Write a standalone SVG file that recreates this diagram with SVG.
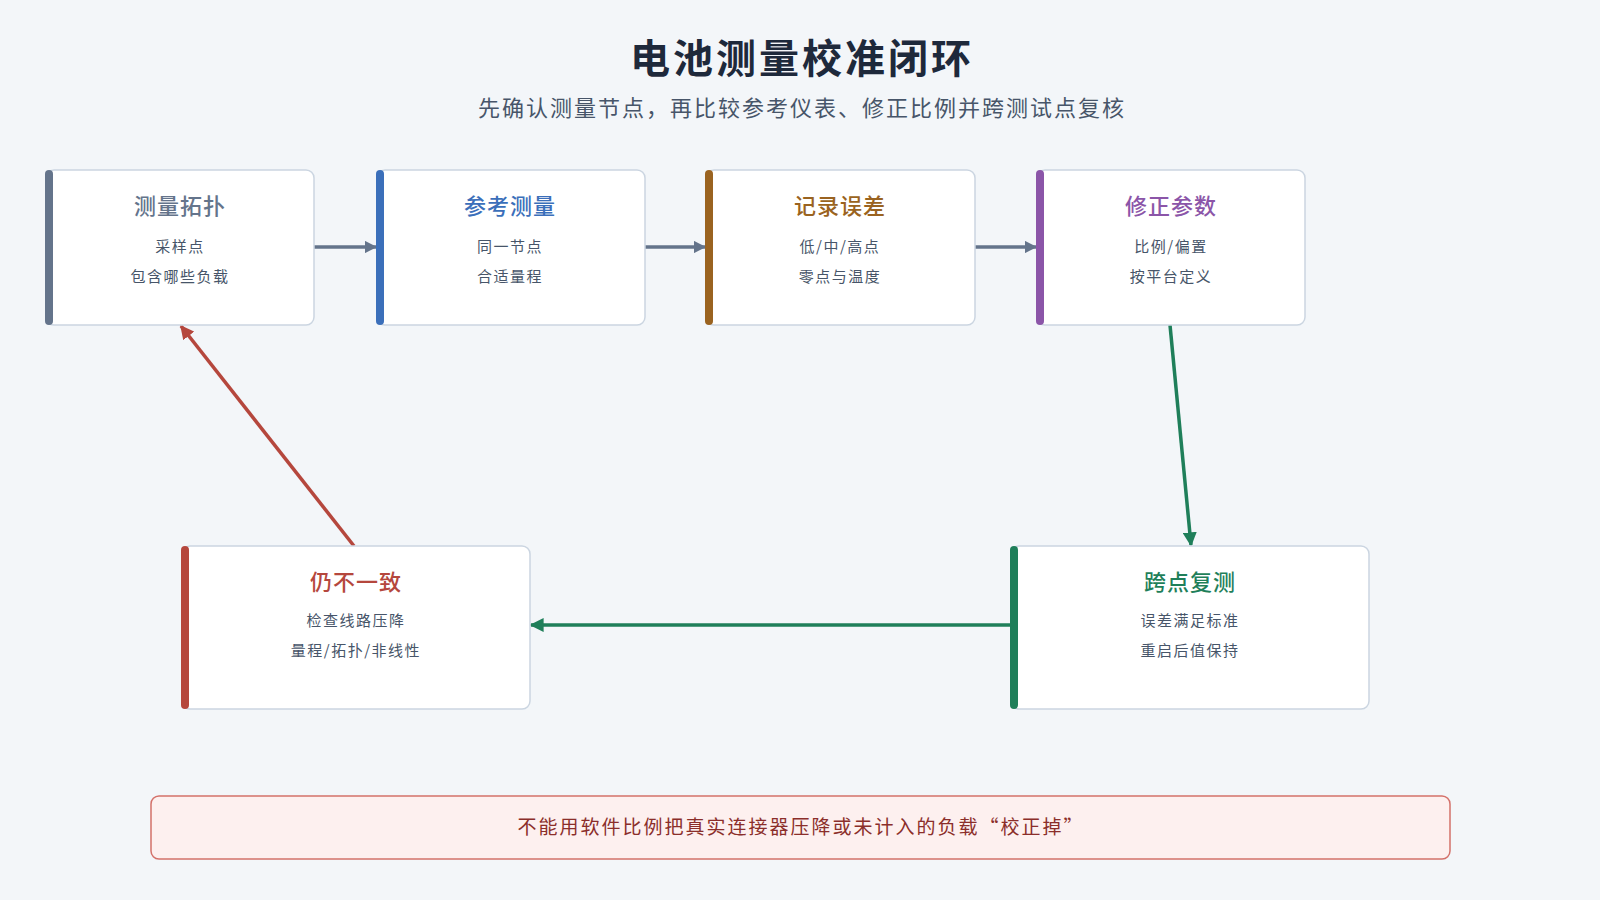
<svg xmlns="http://www.w3.org/2000/svg" width="1600" height="900" viewBox="0 0 1600 900">
<style>
text{font-family:"Noto Sans CJK SC","Noto Sans",sans-serif;text-anchor:middle}
.box{fill:#fff;stroke:#cbd5e1;stroke-width:1.5}
.t{font-size:22px;font-weight:500;letter-spacing:1px}
.s{font-size:15px;fill:#475569;letter-spacing:1.5px}
</style>
<defs>
<marker id="ag" viewBox="0 0 10 10" refX="9" refY="5" markerWidth="3.5" markerHeight="3.5" orient="auto"><path d="M0,0L10,5L0,10z" fill="#64748b"/></marker>
<marker id="agr" viewBox="0 0 10 10" refX="9" refY="5" markerWidth="4" markerHeight="4" orient="auto"><path d="M0,0L10,5L0,10z" fill="#1f7f5a"/></marker>
<marker id="ar" viewBox="0 0 10 10" refX="9" refY="5" markerWidth="4" markerHeight="4" orient="auto"><path d="M0,0L10,5L0,10z" fill="#b5473d"/></marker>
</defs>
<rect width="1600" height="900" fill="#f3f6f9"/>
<text x="802" y="73" font-size="40" font-weight="600" fill="#1e293b" letter-spacing="3">电池测量校准闭环</text>
<text x="802" y="116" font-size="22" fill="#475569" letter-spacing="2">先确认测量节点，再比较参考仪表、修正比例并跨测试点复核</text>
<g id="connectors" fill="none">
<path d="M314,247H376" stroke="#64748b" stroke-width="3.5" marker-end="url(#ag)"/>
<path d="M645,247H705" stroke="#64748b" stroke-width="3.5" marker-end="url(#ag)"/>
<path d="M975,247H1036" stroke="#64748b" stroke-width="3.5" marker-end="url(#ag)"/>
<path d="M1170,325L1191,545" stroke="#1f7f5a" stroke-width="3.5" marker-end="url(#agr)"/>
<path d="M1011,625H531" stroke="#1f7f5a" stroke-width="3.5" marker-end="url(#agr)"/>
<path d="M354,546L181,326" stroke="#b5473d" stroke-width="3.5" marker-end="url(#ar)"/>
</g>
<g id="n1"><rect class="box" x="46" y="170" width="268" height="155" rx="8"/><rect x="45" y="170" width="8" height="155" rx="4" fill="#64748b"/><text class="t" x="180" y="214" fill="#64748b">测量拓扑</text><text class="s" x="180" y="252">采样点</text><text class="s" x="180" y="282">包含哪些负载</text></g>
<g id="n2"><rect class="box" x="377" y="170" width="268" height="155" rx="8"/><rect x="376" y="170" width="8" height="155" rx="4" fill="#3b6fba"/><text class="t" x="510" y="214" fill="#3b6fba">参考测量</text><text class="s" x="510" y="252">同一节点</text><text class="s" x="510" y="282">合适量程</text></g>
<g id="n3"><rect class="box" x="706" y="170" width="269" height="155" rx="8"/><rect x="705" y="170" width="8" height="155" rx="4" fill="#9a6320"/><text class="t" x="840" y="214" fill="#9a6320">记录误差</text><text class="s" x="840" y="252">低/中/高点</text><text class="s" x="840" y="282">零点与温度</text></g>
<g id="n4"><rect class="box" x="1037" y="170" width="268" height="155" rx="8"/><rect x="1036" y="170" width="8" height="155" rx="4" fill="#8b55a8"/><text class="t" x="1171" y="214" fill="#8b55a8">修正参数</text><text class="s" x="1171" y="252">比例/偏置</text><text class="s" x="1171" y="282">按平台定义</text></g>
<g id="n5"><rect class="box" x="182" y="546" width="348" height="163" rx="8"/><rect x="181" y="546" width="8" height="163" rx="4" fill="#b5473d"/><text class="t" x="356" y="590" fill="#b5473d">仍不一致</text><text class="s" x="356" y="626">检查线路压降</text><text class="s" x="356" y="656">量程/拓扑/非线性</text></g>
<g id="n6"><rect class="box" x="1011" y="546" width="358" height="163" rx="8"/><rect x="1010" y="546" width="8" height="163" rx="4" fill="#1f7f5a"/><text class="t" x="1190" y="590" fill="#1f7f5a">跨点复测</text><text class="s" x="1190" y="626">误差满足标准</text><text class="s" x="1190" y="656">重启后值保持</text></g>
<g id="note"><rect x="151" y="796" width="1299" height="63" rx="8" fill="#fdf0ef" stroke="#d4716a" stroke-width="1.5"/><text x="801" y="834" font-size="19" fill="#8b2e2a" letter-spacing="2">不能用软件比例把真实连接器压降或未计入的负载“校正掉”</text></g>
</svg>
